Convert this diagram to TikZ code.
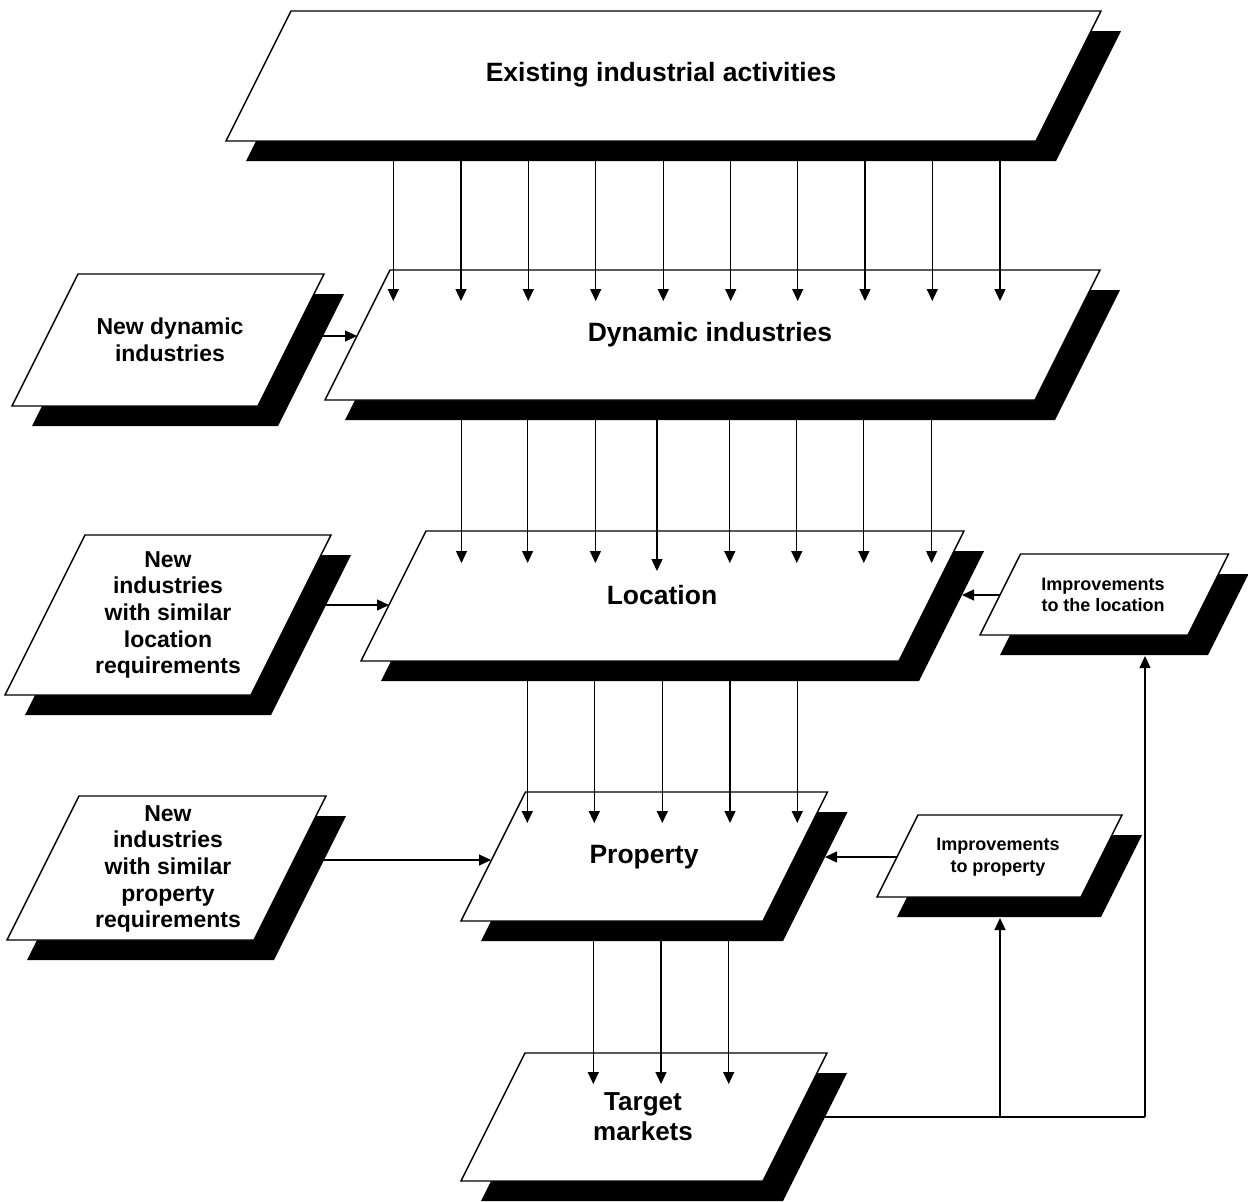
\documentclass[tikz,border=0pt]{standalone}
\usepackage{fontspec}
\setmainfont{Liberation Sans}
\usetikzlibrary{arrows.meta}
\newcommand{\pbox}[5]{%
  \fill[black] ({#2+20},{#3+20}) -- ++(#4,0) -- ++({#5/2},{-#5}) -- ++({-#4},0) -- cycle;
  \filldraw[boxline] (#2,#3) -- ++(#4,0) -- ++({#5/2},{-#5}) -- ++({-#4},0) -- cycle;
}
\begin{document}
\begin{tikzpicture}[x=0.5pt,y=-0.5pt,
  boxline/.style={fill=white,draw=black,line width=0.7pt,line join=miter},
  arr/.style={line width=0.65pt,-{Triangle[length=6pt,width=5.5pt]}},
  line/.style={line width=0.65pt},
  big/.style={font=\bfseries\fontsize{13.25}{15}\selectfont,align=center,inner sep=0pt},
  mid/.style={font=\bfseries\fontsize{11.5}{13.35}\selectfont,align=center,inner sep=0pt},
  tgt/.style={font=\bfseries\fontsize{13}{15}\selectfont,align=center,inner sep=0pt},
  sml/.style={font=\bfseries\fontsize{9}{10.85}\selectfont,align=center,inner sep=0pt}]
\fill[white] (0,0) rectangle (1248,1201);
\useasboundingbox (0,0) rectangle (1248,1201);
% boxes
\pbox{ex}{226}{141}{810}{130}
\pbox{dy}{325}{400}{710}{130}
\pbox{nd}{12}{406}{246}{132}
\pbox{lo}{361}{661}{538}{130}
\pbox{nl}{5}{695}{246}{160}
\pbox{il}{980}{635}{208}{81}
\pbox{pr}{461}{921}{302}{129}
\pbox{np}{7}{940}{247}{144}
\pbox{ip}{877}{897}{204}{82}
\pbox{tm}{461}{1181}{302}{128}
% texts
\node[big] (ex) at (661,75) {Existing industrial activities};
\node[big] (dy) at (710,335) {Dynamic industries};
\node[mid] (nd) at (170,340) {New dynamic\\industries};
\node[big] (lo) at (662,595) {Location};
\node[mid] (nl) at (168,615) {New\\industries\\with similar\\location\\requirements};
\node[sml] (il) at (1103,595) {Improvements\\to the location};
\node[big] (pr) at (644,857) {Property};
\node[mid] (np) at (168,869) {New\\industries\\with similar\\property\\requirements};
\node[sml] (ip) at (998,857) {Improvements\\to property};
\node[tgt] (tm) at (643,1117) {Target\\markets};
% connector anchor levels
\coordinate (ex-sb) at (0,161);
\coordinate (dy-tip) at (0,301);
\coordinate (dy-sb) at (0,420);
\coordinate (lo-tip) at (0,563);
\coordinate (lo-tip2) at (0,571);
\coordinate (lo-sb) at (0,681);
\coordinate (pr-tip) at (0,823);
\coordinate (pr-sb) at (0,941);
\coordinate (tm-tip) at (0,1084);
\coordinate (nd-r) at (293,336);
\coordinate (dy-l) at (357,336);
\coordinate (nl-r) at (296,605);
\coordinate (lo-l) at (389,605);
\coordinate (il-l) at (1000,595);
\coordinate (lo-r) at (962,595);
\coordinate (np-r) at (294,860);
\coordinate (pr-l) at (491,860);
\coordinate (ip-l) at (897,857);
\coordinate (pr-r) at (825,857);
\coordinate (tm-r) at (825,1117);
\coordinate (j1) at (1000,1117);
\coordinate (j2) at (1145,1117);
\coordinate (il-sb) at (1145,656);
\coordinate (ip-sb) at (1000,918);
% vertical flows
\foreach \x in {393.3,461,528.3,595.7,663.3,730.7,797.7,865,932.3,1000}
  \draw[arr] (\x,0 |- ex-sb) -- (\x,0 |- dy-tip);
\foreach \x in {461.5,527.6,595.4,729.8,796.8,863.8,931.6}
  \draw[arr] (\x,0 |- dy-sb) -- (\x,0 |- lo-tip);
\draw[arr] (657,0 |- dy-sb) -- (657,0 |- lo-tip2);
\foreach \x in {527.3,594.3,662.3,730,797.3}
  \draw[arr] (\x,0 |- lo-sb) -- (\x,0 |- pr-tip);
\foreach \x in {593.3,661,728.7}
  \draw[arr] (\x,0 |- pr-sb) -- (\x,0 |- tm-tip);
% side inputs
\draw[arr] (nd-r) -- (dy-l);
\draw[arr] (nl-r) -- (lo-l);
\draw[arr] (il-l) -- (lo-r);
\draw[arr] (np-r) -- (pr-l);
\draw[arr] (ip-l) -- (pr-r);
% feedback
\draw[line] (tm-r) -- (j2);
\draw[arr] (j2) -- (il-sb);
\draw[arr] (j1) -- (ip-sb);
\end{tikzpicture}
\end{document}
